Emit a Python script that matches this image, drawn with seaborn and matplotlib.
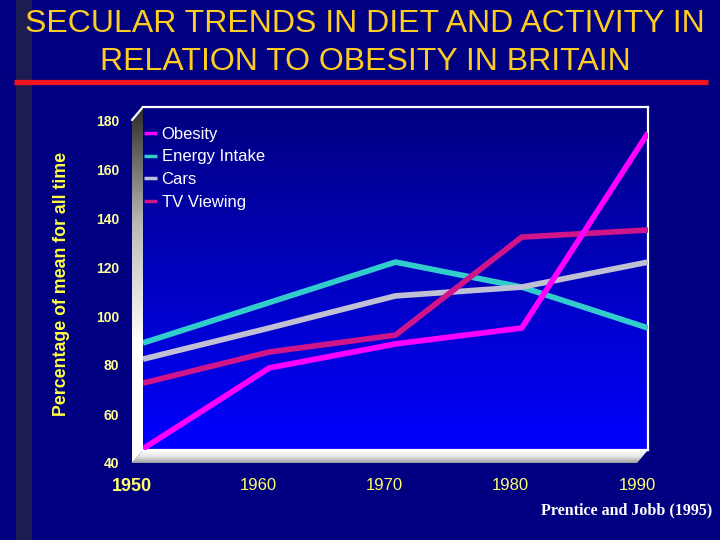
import numpy as np
import pandas as pd
import matplotlib
matplotlib.use("Agg")
import matplotlib.pyplot as plt
from matplotlib.patches import Polygon
import seaborn as sns

# ------------------------------------------------------
# Data (percentage of mean for all time)
# ------------------------------------------------------
years = [1950, 1960, 1970, 1980, 1990]
obesity = [40.5, 73.5, 83.3, 89.8, 169.4]
energy_intake = [83.7, 100.2, 116.7, 106.5, 89.8]
cars = [77.1, 89.8, 102.9, 106.5, 116.7]
tv_viewing = [67.3, 80.0, 86.9, 126.9, 129.8]

series = ["Obesity", "Energy Intake", "Cars", "TV Viewing"]
colors = ["#FF00FF", "#33CCCC", "#C0C0D4", "#D0148A"]
y_ticks = [40, 60, 80, 100, 120, 140, 160, 180]

df = pd.DataFrame({
    "Year": years * 4,
    "Value": obesity + energy_intake + cars + tv_viewing,
    "Series": sum([[s] * len(years) for s in series], []),
})

# ------------------------------------------------------
# Style
# ------------------------------------------------------
sns.set_theme(style="white")
plt.rcParams["font.family"] = ["Liberation Sans", "DejaVu Sans"]

NAVY = "#000080"
W, H = 720, 540

fig = plt.figure(figsize=(7.2, 5.4), dpi=100)
fig.patch.set_facecolor(NAVY)

def fx(px):
    return px / W

def fy(py):
    return 1 - py / H

# background / decoration layer in pixel coordinates
bg = fig.add_axes([0, 0, 1, 1], zorder=0)
bg.set_xlim(0, W)
bg.set_ylim(H, 0)
bg.axis("off")
bg.add_patch(Polygon([(16, 0), (32, 0), (32, H), (16, H)], closed=True,
                     facecolor="#1C1C52", edgecolor="none"))
bg.plot([14, 708], [81.5, 81.5], color="#F0141E", lw=3.8, solid_capstyle="butt")

# back wall geometry (pixels)
bx0, bx1, by0, by1 = 143, 648, 107, 450
dx, dy = 11, 13

# left side wall with gradient
grad = np.linspace(0, 1, 256).reshape(-1, 1)
wall = Polygon([(bx0 - dx, by0 + dy), (bx0, by0), (bx0, by1), (bx0 - dx, by1 + dy)],
               closed=True, facecolor="none", edgecolor="none")
bg.add_patch(wall)
im = bg.imshow(grad, cmap=sns.blend_palette(["#2A2A2A", "#BBBBBB", "#FFFFFF", "#FFFFFF"], as_cmap=True),
               extent=[bx0 - dx, bx0, by1 + dy, by0], aspect="auto", zorder=1)
im.set_clip_path(wall)

# floor with gradient
floor = Polygon([(bx0, by1), (bx1, by1), (bx1 - dx, by1 + dy), (bx0 - dx, by1 + dy)],
                closed=True, facecolor="none", edgecolor="none")
bg.add_patch(floor)
im2 = bg.imshow(grad, cmap=sns.blend_palette(["#FFFFFF", "#E6E6E6", "#9A9A9A"], as_cmap=True),
                extent=[bx0 - dx, bx1, by1 + dy, by1], aspect="auto", zorder=1)
im2.set_clip_path(floor)
bg.plot([bx0 - dx, bx0], [by0 + dy, by0], color="white", lw=1.6, zorder=2)

# title
fig.text(fx(365), fy(24), "SECULAR TRENDS IN DIET AND ACTIVITY IN", ha="center", va="center",
         color="#FFCC22", fontsize=23)
fig.text(fx(365), fy(62), "RELATION TO OBESITY IN BRITAIN", ha="center", va="center",
         color="#FFCC22", fontsize=23)

# ------------------------------------------------------
# Front axes: only the tick labels
# ------------------------------------------------------
front = fig.add_axes([fx(bx0 - dx), fy(by1 + dy), fx(bx1 - bx0), (by1 - by0) / H], zorder=1)
front.set_facecolor("none")
front.set_xlim(1950, 1990)
front.set_ylim(40, 180)
front.set_yticks(y_ticks)
front.set_xticks(years)
front.set_xticklabels([str(y) for y in years])
for s in front.spines.values():
    s.set_visible(False)
front.tick_params(axis="both", length=0, colors="#FFFF99")
front.tick_params(axis="y", pad=9)
front.tick_params(axis="x", pad=11)
for lab in front.get_yticklabels():
    lab.set_fontsize(10)
    lab.set_fontweight("bold")
    lab.set_family(["Liberation Sans Narrow", "Liberation Sans"])
for i, lab in enumerate(front.get_xticklabels()):
    lab.set_color("#FFFF66")
    if i == 0:
        lab.set_fontsize(13)
        lab.set_fontweight("bold")
    else:
        lab.set_fontsize(12)
        lab.set_family(["Liberation Sans Narrow", "Liberation Sans"])

fig.text(fx(62), fy(284), "Percentage of mean for all time", rotation=90,
         ha="center", va="center", color="#FFFF44", fontsize=12.8, fontweight="bold")

# ------------------------------------------------------
# Back wall: gradient + lines
# ------------------------------------------------------
ax = fig.add_axes([fx(bx0), fy(by1), fx(bx1 - bx0), (by1 - by0) / H], zorder=2)
ax.set_facecolor("none")
ax.imshow(grad, cmap=sns.blend_palette([NAVY, "#0000C0", "#0000FF"], as_cmap=True),
          extent=[1950, 1990, 40, 180], aspect="auto", zorder=0)

sns.lineplot(data=df, x="Year", y="Value", hue="Series", hue_order=series,
             palette=colors, linewidth=4.1, ax=ax)
for i, line in enumerate(ax.lines):
    line.set_zorder(5 if i == 0 else 3 + i * 0.1)
    line.set_solid_capstyle("butt")

ax.set_xlim(1950, 1990)
ax.set_ylim(40, 180)
ax.set_xticks([])
ax.set_yticks([])
ax.set_xlabel("")
ax.set_ylabel("")
ax.spines["left"].set_visible(False)
for side in ["bottom", "top", "right"]:
    ax.spines[side].set_color("white")
    ax.spines[side].set_linewidth(1.6)

handles, labels = ax.get_legend_handles_labels()
for h in handles:
    h.set_linewidth(2.5)
leg = ax.legend(handles, labels, loc="upper left", bbox_to_anchor=(fx(144), fy(127)),
                bbox_transform=fig.transFigure, frameon=False, fontsize=12,
                handlelength=0.75, handletextpad=0.3, labelspacing=0.45,
                borderpad=0, borderaxespad=0)
for t in leg.get_texts():
    t.set_color("white")

fig.text(fx(712), fy(510), "Prentice and Jobb (1995)", ha="right", va="center",
         color="white", fontsize=11.5, fontweight="bold",
         family=["Liberation Serif", "DejaVu Serif"])

fig.savefig("out.png", dpi=100, facecolor=fig.get_facecolor())
